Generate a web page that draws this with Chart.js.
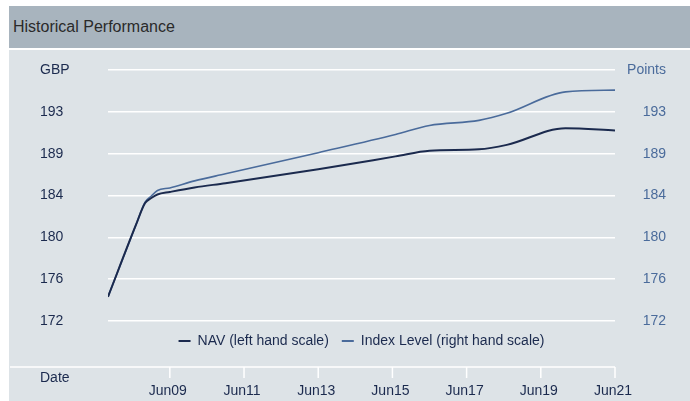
<!DOCTYPE html>
<html>
<head>
<meta charset="utf-8">
<title>Historical Performance</title>
<script src="https://cdn.jsdelivr.net/npm/chart.js@4.4.0/dist/chart.umd.min.js"></script>
<style>
  body { margin: 0; width: 690px; height: 401px; background: #fff; overflow: hidden; font-family: "Liberation Sans", Arial, sans-serif; }
  #head { position: absolute; left: 9px; top: 6px; width: 681px; height: 42px; background: #a8b4be; color: #2a2a2a; font-size: 16px; line-height: 41px; }
  #head span { padding-left: 4px; }
  #wrap { position: absolute; left: 9px; top: 50px; width: 681px; height: 351px; background: #dde3e7; }
</style>
</head>
<body>
<div id="head"><span>Historical Performance</span></div>
<div id="wrap"><canvas id="perfChart" width="681" height="351"></canvas></div>
<script>
// monthly points (YYYY-MM)
var dates = ['2007-10', '2008-07', '2008-10', '2008-12', '2009-02', '2009-06', '2010-02', '2010-12',
             '2013-06', '2015-07', '2016-06', '2017-10', '2018-07', '2020-02', '2021-06'];
var navValues   = [174.4, 181.5, 183.7, 184.2, 184.55, 184.8, 185.25, 185.67,
                   187.05, 188.33, 188.9, 189.03, 189.47, 191.13, 190.9];
var indexValues = [174.4, 181.5, 183.8, 184.4, 184.95, 185.2, 185.9, 186.6,
                   188.7, 190.5, 191.4, 191.9, 192.6, 194.73, 194.9];

var xTickLabels = ['Jun09', 'Jun11', 'Jun13', 'Jun15', 'Jun17', 'Jun19', 'Jun21'];
var yTickValues = [172, 176.15, 180.3, 184.45, 188.6, 192.75, 196.9];
var leftTickLabels  = ['172', '176', '180', '184', '189', '193', 'GBP'];
var rightTickLabels = ['172', '176', '180', '184', '189', '193', 'Points'];

var navy = '#1b2a4e';
var steel = '#4a6b9b';
var fontFamily = '"Liberation Sans", Arial, sans-serif';

function toYear(s) {
  var p = s.split('-');
  return parseInt(p[0], 10) + (parseInt(p[1], 10) - 1) / 12;
}
var months = {Jan:1,Feb:2,Mar:3,Apr:4,May:5,Jun:6,Jul:7,Aug:8,Sep:9,Oct:10,Nov:11,Dec:12};
function labelToYear(l) {
  return 2000 + parseInt(l.substr(3), 10) + (months[l.substr(0, 3)] - 1) / 12;
}

var navPoints = [], indexPoints = [];
for (var i in dates) {
  navPoints.push({x: toYear(dates[i]), y: navValues[i]});
  indexPoints.push({x: toYear(dates[i]), y: indexValues[i]});
}

// x axis line, ticks and "Date" sit below the legend
var xAxisLine = {
  id: 'xAxisLine',
  afterDraw: function(chart) {
    var c = chart.ctx, xs = chart.scales.x;
    var yLine = xs.top + 9;
    c.save();
    c.strokeStyle = '#ffffff';
    c.lineWidth = 1.5;
    c.beginPath();
    c.moveTo(1, yLine);
    c.lineTo(xs.right, yLine);
    xs.ticks.forEach(function(t) {
      var px = xs.getPixelForValue(t.value);
      c.moveTo(px, yLine);
      c.lineTo(px, yLine + 11);
    });
    c.stroke();
    c.fillStyle = navy;
    c.font = '14px ' + fontFamily;
    c.textBaseline = 'middle';
    c.fillText('Date', 31, yLine + 11);
    c.restore();
  }
};

var cxt = document.getElementById('perfChart');
var perfChart = new Chart(cxt, {
  type: 'line',
  data: {
    datasets: [
      {
        label: 'NAV (left hand scale)',
        data: navPoints,
        yAxisID: 'yL',
        borderColor: navy,
        backgroundColor: navy,
        borderWidth: 2,
        pointRadius: 0,
        cubicInterpolationMode: 'monotone',
        fill: false
      },
      {
        label: 'Index Level (right hand scale)',
        data: indexPoints,
        yAxisID: 'yR',
        borderColor: steel,
        backgroundColor: steel,
        borderWidth: 1.6,
        pointRadius: 0,
        cubicInterpolationMode: 'monotone',
        fill: false
      }
    ]
  },
  options: {
    responsive: false,
    animation: false,
    layout: { padding: { left: 31, right: 24, top: 20, bottom: 0 } },
    plugins: {
      tooltip: { enabled: false },
      legend: {
        position: 'bottom',
        fullSize: false,
        weight: -10,
        maxHeight: 38,
        labels: {
          boxWidth: 12,
          boxHeight: 2,
          padding: 13,
          color: navy,
          font: { size: 14, family: fontFamily },
          generateLabels: function(chart) {
            return Chart.defaults.plugins.legend.labels.generateLabels(chart).map(function(l) {
              l.lineWidth = 0;
              return l;
            });
          }
        }
      }
    },
    scales: {
      x: {
        type: 'linear',
        min: toYear(dates[0]),
        max: toYear(dates[dates.length - 1]),
        grid: { display: false, drawTicks: false, tickLength: 0 },
        border: { display: false },
        afterBuildTicks: function(s) {
          s.ticks = xTickLabels.map(function(l) { return {value: labelToYear(l)}; });
        },
        afterFit: function(s) { s.height = 43; },
        ticks: {
          padding: 25,
          labelOffset: -2,
          autoSkip: false,
          maxRotation: 0,
          color: navy,
          font: { size: 14, family: fontFamily },
          callback: function(v, idx) { return xTickLabels[idx]; }
        }
      },
      yL: {
        position: 'left',
        min: yTickValues[0],
        max: yTickValues[yTickValues.length - 1],
        afterBuildTicks: function(s) {
          s.ticks = yTickValues.map(function(v) { return {value: v}; });
        },
        afterFit: function(s) { s.width = 68; },
        grid: { color: '#ffffff', lineWidth: 1.5, drawTicks: false },
        border: { display: false },
        ticks: {
          crossAlign: 'far',
          color: navy,
          font: { size: 14, family: fontFamily },
          callback: function(v, idx) { return leftTickLabels[idx]; }
        }
      },
      yR: {
        position: 'right',
        min: yTickValues[0],
        max: yTickValues[yTickValues.length - 1],
        afterBuildTicks: function(s) {
          s.ticks = yTickValues.map(function(v) { return {value: v}; });
        },
        afterFit: function(s) { s.width = 51; },
        grid: { display: false, drawTicks: false },
        border: { display: false },
        ticks: {
          crossAlign: 'far',
          color: steel,
          font: { size: 14, family: fontFamily },
          callback: function(v, idx) { return rightTickLabels[idx]; }
        }
      }
    }
  },
  plugins: [xAxisLine]
});
</script>
</body>
</html>
